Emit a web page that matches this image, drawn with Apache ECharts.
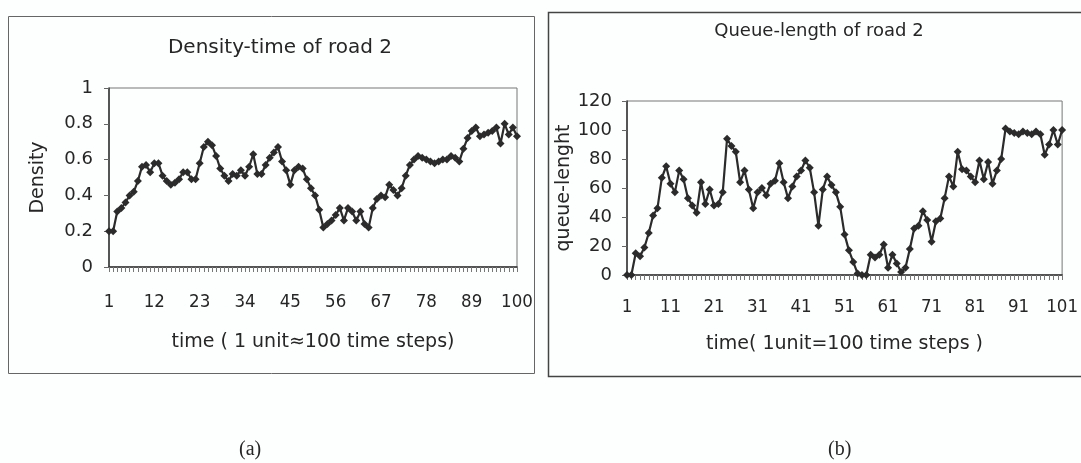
<!DOCTYPE html>
<html>
<head>
<meta charset="utf-8">
<script src="https://cdn.jsdelivr.net/npm/echarts@6/dist/echarts.min.js"></script>
<style>
html,body{margin:0;padding:0;background:#fdfefe;}
#chart{width:1081px;height:463px;}
</style>
</head>
<body>
<div id="chart"></div>
<script>
// Panel (a): density of road 2, time 1..100
const densityTime = Array.from({length: 100}, (_, i) => String(i + 1));
const densityValues = [
  0.20,0.20,0.31,0.33,0.36,0.40,0.42,0.48,0.56,0.57,
  0.53,0.58,0.58,0.51,0.48,0.46,0.47,0.49,0.53,0.53,
  0.49,0.49,0.58,0.67,0.70,0.68,0.62,0.55,0.51,0.48,
  0.52,0.51,0.54,0.51,0.56,0.63,0.52,0.52,0.57,0.61,
  0.64,0.67,0.59,0.54,0.46,0.54,0.56,0.55,0.49,0.44,
  0.40,0.32,0.22,0.24,0.26,0.29,0.33,0.26,0.33,0.31,
  0.26,0.31,0.24,0.22,0.33,0.38,0.40,0.39,0.46,0.43,
  0.40,0.44,0.51,0.57,0.60,0.62,0.61,0.60,0.59,0.58,
  0.59,0.60,0.60,0.62,0.61,0.59,0.66,0.72,0.76,0.78,
  0.73,0.74,0.75,0.76,0.78,0.69,0.80,0.74,0.78,0.73
];
const densityTicks = [0, 0.2, 0.4, 0.6, 0.8, 1];

// Panel (b): queue length of road 2, time 1..101
const queueTime = Array.from({length: 101}, (_, i) => String(i + 1));
const queueValues = [
  0,0,15,13,19,29,41,46,67,75,
  63,57,72,66,53,48,43,64,49,59,
  48,49,57,94,89,85,64,72,59,46,
  57,60,55,63,65,77,64,53,61,68,
  72,79,74,57,34,59,68,62,57,47,
  28,17,9,1,0,0,14,12,14,21,
  5,14,8,2,5,18,32,34,44,38,
  23,37,39,53,68,61,85,73,72,68,
  64,79,66,78,63,72,80,101,99,98,
  97,99,98,97,99,97,83,90,100,90,100
];
const queueTicks = [0, 20, 40, 60, 80, 100, 120];

const titles = ['Density-time of road 2', 'Queue-length of road 2'];
const xNames = ['time ( 1 unit\u2248100 time steps)', 'time( 1unit=100 time steps )'];
const yNames = ['Density', 'queue-lenght'];
const captions = ['(a)', '(b)'];

const SANS = "'DejaVu Sans', 'Liberation Sans', sans-serif";
const NARROW = "'Liberation Sans Narrow', 'DejaVu Sans Condensed', 'Liberation Sans', sans-serif";
const INK = '#262626';

const chart = echarts.init(document.getElementById('chart'), null, {renderer: 'canvas'});

function xAxisCfg(gridIndex, data, interval, name, nameGap, margin) {
  return {
    type: 'category', gridIndex, data, boundaryGap: false,
    name, nameLocation: 'middle', nameGap,
    nameTextStyle: {fontFamily: SANS, fontSize: 19, color: INK},
    axisLine: {show: true, lineStyle: {color: '#333', width: 1.5}},
    axisTick: {show: true, interval: 0, length: 5, inside: false, lineStyle: {color: '#777', width: 1}},
    axisLabel: {interval, margin, fontFamily: NARROW, fontSize: 18.5, color: INK},
    splitLine: {show: false}
  };
}
function yAxisCfg(gridIndex, ticks, name, nameGap, margin) {
  return {
    type: 'value', gridIndex,
    min: ticks[0], max: ticks[ticks.length - 1], interval: ticks[1] - ticks[0],
    name, nameLocation: 'middle', nameGap, nameRotate: 90,
    nameTextStyle: {fontFamily: SANS, fontSize: 19, color: INK},
    axisLine: {show: true, lineStyle: {color: '#333', width: 1.5}},
    axisTick: {show: true, length: 5, lineStyle: {color: '#666'}},
    axisLabel: {margin, fontFamily: SANS, fontSize: 18, color: INK},
    splitLine: {show: false}
  };
}
function lineSeries(idx, data) {
  return {
    type: 'line', xAxisIndex: idx, yAxisIndex: idx, data,
    symbol: 'diamond', symbolSize: 8, showAllSymbol: true,
    lineStyle: {color: '#2b2b2b', width: 2.2},
    itemStyle: {color: '#2b2b2b'},
    animation: false
  };
}

chart.setOption({
  backgroundColor: '#fdfefe',
  animation: false,
  title: [
    {text: titles[0], left: 275, top: 33, textAlign: 'center',
     textStyle: {fontFamily: SANS, fontSize: 20, fontWeight: 'normal', color: INK}},
    {text: titles[1], left: 814, top: 17, textAlign: 'center',
     textStyle: {fontFamily: SANS, fontSize: 18, fontWeight: 'normal', color: INK}}
  ],
  grid: [
    {left: 109, top: 88, width: 408, height: 179, show: true, borderColor: '#777', borderWidth: 1, backgroundColor: 'transparent'},
    {left: 627, top: 101, width: 437, height: 174, show: true, borderColor: '#777', borderWidth: 1, backgroundColor: 'transparent'}
  ],
  xAxis: [
    xAxisCfg(0, densityTime, 10, xNames[0], 66, 26),
    xAxisCfg(1, queueTime, 9, xNames[1], 60, 23)
  ],
  yAxis: [
    yAxisCfg(0, densityTicks, yNames[0], 61, 16),
    yAxisCfg(1, queueTicks, yNames[1], 50, 15)
  ],
  series: [
    lineSeries(0, densityValues),
    lineSeries(1, queueValues)
  ],
  graphic: [
    {type: 'rect', z: -10, shape: {x: 8.5, y: 16.5, width: 526, height: 357},
     style: {fill: 'transparent', stroke: '#666', lineWidth: 1}},
    {type: 'rect', z: -10, shape: {x: 548.5, y: 12.5, width: 540, height: 364},
     style: {fill: 'transparent', stroke: '#444', lineWidth: 1.5}},
    {type: 'text', left: 239, top: 440,
     style: {text: captions[0], font: "20px 'Liberation Serif', serif", fill: INK}},
    {type: 'text', left: 828, top: 440,
     style: {text: captions[1], font: "20px 'Liberation Serif', serif", fill: INK}}
  ]
});
</script>
</body>
</html>
